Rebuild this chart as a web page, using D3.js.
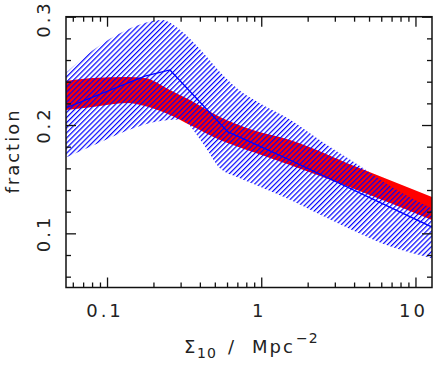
<!DOCTYPE html>
<html>
<head>
<meta charset="utf-8">
<script src="https://cdn.jsdelivr.net/npm/d3@7"></script>
<style>
  body { margin: 0; background: #fff; }
  text { font-family: "DejaVu Sans", sans-serif; fill: #222; }
</style>
</head>
<body>
<div id="chart"></div>
<script>
// blue hatched band (upper / lower)
var hatchX = [0.054, 0.081, 0.135, 0.227, 0.297, 0.419, 0.540, 0.696, 0.981, 1.535, 2.511, 4.172, 6.826, 12.8]
var hatchHi = [0.248, 0.269, 0.288, 0.297, 0.288, 0.267, 0.249, 0.234, 0.220, 0.205, 0.184, 0.164, 0.144, 0.123]
var hatchLo = [0.170, 0.181, 0.195, 0.204, 0.205, 0.183, 0.160, 0.152, 0.143, 0.131, 0.116, 0.101, 0.088, 0.077]

// red band
var redX = [0.054, 0.081, 0.135, 0.176, 0.256, 0.345, 0.540, 0.883, 1.535, 4.172, 12.8]
var redHi = [0.2406, 0.2434, 0.2443, 0.2434, 0.2323, 0.2231, 0.2074, 0.1954, 0.1862, 0.1612, 0.1335]
var redLo = [0.2139, 0.2166, 0.2203, 0.2175, 0.2092, 0.2000, 0.1862, 0.1751, 0.1631, 0.1400, 0.1123]

// blue line
var lineX = [0.054, 0.176, 0.256, 0.608, 0.696, 1.535, 12.8]
var lineY = [0.2157, 0.2452, 0.2508, 0.1936, 0.1899, 0.1677, 0.1058]

var xMajor = [0.1, 1, 10]
var xMinor = [0.06, 0.07, 0.08, 0.09, 0.2, 0.3, 0.4, 0.5, 0.6, 0.7, 0.8, 0.9, 2, 3, 4, 5, 6, 7, 8, 9]
var xLabels = ["0.1", "1", "10"]
var yMajor = [0.1, 0.2, 0.3]
var yMinor = [0.06, 0.08, 0.12, 0.14, 0.16, 0.18, 0.22, 0.24, 0.26, 0.28]
var yLabels = ["0.1", "0.2", "0.3"]

var W = 434, H = 371
var pLeft = 66, pRight = 432, pTop = 16.7, pBottom = 287.5

var svg = d3.select("#chart").append("svg").attr("width", W).attr("height", H)

var x = d3.scaleLog().domain([0.0542, 12.8]).range([pLeft, pRight])
var y = d3.scaleLinear().domain([0.05, 0.3]).range([pBottom, pTop])

var defs = svg.append("defs")
defs.append("clipPath").attr("id", "plotclip")
    .append("rect").attr("x", pLeft).attr("y", pTop).attr("width", pRight - pLeft).attr("height", pBottom - pTop)
var pat = defs.append("pattern").attr("id", "hatch")
    .attr("patternUnits", "userSpaceOnUse")
    .attr("width", 3.6).attr("height", 10)
    .attr("patternTransform", "rotate(45)")
pat.append("line").attr("x1", 0.6).attr("x2", 0.6).attr("y1", 0).attr("y2", 10)
    .attr("stroke", "#0000ff").attr("stroke-width", 1.2)

function bandData(xs, hi, lo) {
    var out = []
    for (var i in xs) {
        out.push({ x: xs[i], hi: hi[i], lo: lo[i] })
    }
    return out
}

var area = d3.area()
    .x(function(d) { return x(d.x) })
    .y0(function(d) { return y(d.lo) })
    .y1(function(d) { return y(d.hi) })
    .curve(d3.curveMonotoneX)

var plot = svg.append("g").attr("clip-path", "url(#plotclip)")

plot.append("path")
    .datum(bandData(redX, redHi, redLo))
    .attr("d", area)
    .attr("fill", "#ff0000")

plot.append("path")
    .datum(bandData(hatchX, hatchHi, hatchLo))
    .attr("d", area)
    .attr("fill", "url(#hatch)")

var linePts = lineX.map(function(v, i) { return [v, lineY[i]] })
plot.append("path")
    .datum(linePts)
    .attr("d", d3.line().x(function(d) { return x(d[0]) }).y(function(d) { return y(d[1]) }))
    .attr("fill", "none")
    .attr("stroke", "#0000ff")
    .attr("stroke-width", 1.3)

// ticks, pointing inward on all four sides
function drawTicks(axis, pos, vals, len) {
    var g = svg.append("g").attr("transform", pos)
        .call(axis.tickValues(vals).tickSize(len).tickFormat(""))
    g.select(".domain").remove()
    g.selectAll("line").attr("stroke", "#111").attr("stroke-width", 1.3)
}
drawTicks(d3.axisBottom(x), "translate(0," + pBottom + ")", xMinor, -5)
drawTicks(d3.axisBottom(x), "translate(0," + pBottom + ")", xMajor, -10)
drawTicks(d3.axisTop(x), "translate(0," + pTop + ")", xMinor, -5)
drawTicks(d3.axisTop(x), "translate(0," + pTop + ")", xMajor, -10)
drawTicks(d3.axisLeft(y), "translate(" + pLeft + ",0)", yMinor, -5)
drawTicks(d3.axisLeft(y), "translate(" + pLeft + ",0)", yMajor, -10)
drawTicks(d3.axisRight(y), "translate(" + pRight + ",0)", yMinor, -5)
drawTicks(d3.axisRight(y), "translate(" + pRight + ",0)", yMajor, -10)

svg.append("rect")
    .attr("x", pLeft).attr("y", pTop)
    .attr("width", pRight - pLeft).attr("height", pBottom - pTop)
    .attr("fill", "none").attr("stroke", "#111").attr("stroke-width", 1.5)

// tick labels
svg.selectAll(".xlab").data(xMajor).enter().append("text")
    .attr("class", "xlab")
    .attr("x", function(d) { return x(d) - 2 })
    .attr("y", 317)
    .attr("text-anchor", "middle")
    .attr("font-size", 18)
    .attr("letter-spacing", 3)
    .text(function(d, i) { return xLabels[i] })

svg.selectAll(".ylab").data(yMajor).enter().append("text")
    .attr("class", "ylab")
    .attr("transform", function(d) { return "translate(50," + Math.max(y(d), 19) + ") rotate(-90)" })
    .attr("text-anchor", "middle")
    .attr("font-size", 18)
    .attr("letter-spacing", 3)
    .text(function(d, i) { return yLabels[i] })

svg.append("text")
    .attr("transform", "translate(19,151) rotate(-90)")
    .attr("text-anchor", "middle")
    .attr("font-size", 18)
    .attr("letter-spacing", 2)
    .text("fraction")

var xt = svg.append("text")
    .attr("y", 353)
    .attr("font-size", 18)
xt.append("tspan").attr("x", 184).text("Σ")
xt.append("tspan").attr("x", 197).attr("font-size", 14).attr("dy", 5).attr("letter-spacing", 1).text("10")
xt.append("tspan").attr("x", 228).attr("dy", -5).text("/")
xt.append("tspan").attr("x", 252).attr("letter-spacing", 2).text("Mpc")
xt.append("tspan").attr("x", 296).attr("font-size", 14).attr("dy", -10).attr("letter-spacing", 1).text("−2")
</script>
</body>
</html>
